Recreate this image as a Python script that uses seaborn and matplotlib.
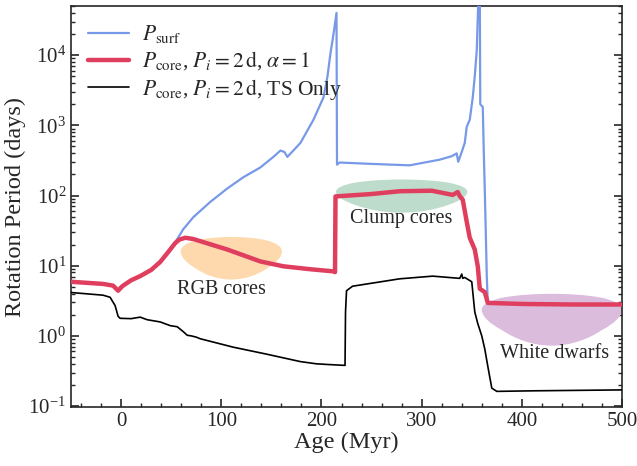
import matplotlib
matplotlib.use("Agg")
import matplotlib.pyplot as plt
from matplotlib.patches import Ellipse
from matplotlib.ticker import MultipleLocator
import pandas as pd
import seaborn as sns

# P_surf
surf_age = [54, 62, 72, 89, 106, 122, 139, 152, 159, 163, 166, 179, 192, 202, 206, 209, 212, 215,
            215.5, 218, 250, 288, 318, 330, 335, 336.5, 340, 343, 345, 348, 351, 353, 355,
            357, 358, 358.5, 361, 362, 363, 364, 365, 366]
surf_p = [21.5, 33, 49, 81, 126, 182, 251, 355, 437, 417, 355, 562, 1200, 2500, 5000, 10700, 20000, 40000,
          275, 295, 282, 269, 324, 363, 398, 302, 417, 562, 955, 1200, 2500, 5000, 11750,
          100000, 100000, 2000, 1820, 420, 120, 30, 7, 3.0]

# P_core, alpha = 1
core_age = [-50, -18, -8, -3, 0, 2, 10, 19, 30, 39, 46, 54, 58, 64, 72, 106, 139, 162,
            189, 212, 213.5, 214, 250, 278, 310, 331, 336, 338, 341, 345, 348, 353, 356,
            358, 363, 366, 400, 450, 500]
core_p = [5.9, 5.5, 5.2, 4.4, 4.9, 5.2, 6.2, 7.1, 8.7, 11.3, 15, 21, 23.5, 25, 24, 17, 11.5, 9.8,
          8.9, 8.3, 8.1, 97, 105, 115, 117, 102, 112, 98, 87, 42, 25, 17, 9.8,
          4.7, 4.2, 2.95, 2.85, 2.8, 2.8]

# P_core, TS only
ts_age = [-50, -18, -11, -6, -3, -1, 10, 19, 26, 39, 49, 56, 62, 66, 70, 75, 79, 112, 145,
          179, 195, 208, 223.5, 224, 225, 231, 278, 311, 338, 340, 341, 343, 350, 353,
          356, 360, 363, 366, 370, 375, 412, 500]
ts_p = [4.15, 3.8, 3.55, 2.7, 1.9, 1.78, 1.76, 1.85, 1.7, 1.58, 1.4, 1.35, 1.15, 1.02, 1.0, 0.96,
        0.91, 0.69, 0.55, 0.43, 0.40, 0.39, 0.38, 2.2, 4.4, 5.1, 6.5, 7.1, 6.6, 7.6, 6.6, 6.8,
        5.9, 2.2, 1.5, 1.0, 0.65, 0.37, 0.18, 0.162, 0.165, 0.17]

# shaded regions: label, centre age, centre period, width, height
regions = ["RGB cores", "Clump cores", "White dwarfs"]
reg_x = [110, 280, 430]
reg_y = [16, 113, 2.35]
reg_w = [101, 131, 140]
reg_h = [19.3, 112, 3.25]
reg_colors = ["#fdd9ad", "#bddccb", "#dcbcdd"]
label_x = [100, 280, 433]
label_y = [4.6, 47, 0.56]

sns.set_style("ticks")
plt.rcParams['font.family'] = ['Liberation Serif', 'DejaVu Serif']
plt.rcParams['mathtext.fontset'] = 'stix'
plt.rcParams['xtick.direction'] = 'in'
plt.rcParams['ytick.direction'] = 'in'

fig = plt.figure(figsize=(6.37, 4.66), dpi=100)
ax = fig.add_axes([0.1115, 0.1266, 0.865, 0.8604])

for i in range(len(regions)):
    ax.add_patch(Ellipse((reg_x[i], reg_y[i]), reg_w[i], reg_h[i],
                         facecolor=reg_colors[i], edgecolor='none', zorder=1))
    ax.text(label_x[i], label_y[i], regions[i], ha='center', va='center', fontsize=14.5)

df_surf = pd.DataFrame({'age': surf_age, 'P': surf_p})
df_core = pd.DataFrame({'age': core_age, 'P': core_p})
df_ts = pd.DataFrame({'age': ts_age, 'P': ts_p})

sns.lineplot(data=df_surf, x='age', y='P', estimator=None, sort=False, ax=ax,
             color='#7799e8', lw=1.6, label=r'$P_\mathrm{surf}$', zorder=3)
sns.lineplot(data=df_core, x='age', y='P', estimator=None, sort=False, ax=ax,
             color='#e03e5e', lw=3.2, label=r'$P_\mathrm{core}$, $P_i = 2\,\mathrm{d}$, $\alpha = 1$', zorder=4)
sns.lineplot(data=df_ts, x='age', y='P', estimator=None, sort=False, ax=ax,
             color='black', lw=1.2, label=r'$P_\mathrm{core}$, $P_i = 2\,\mathrm{d}$, TS Only', zorder=5)

ax.set_yscale('log')
ax.set_xlim(-50, 500)
ax.set_ylim(0.097, 5e4)
ax.xaxis.set_minor_locator(MultipleLocator(20))
ax.tick_params(which='both', right=True, labelsize=15)
ax.tick_params(which='major', length=6, width=1.2)
ax.tick_params(which='minor', length=3, width=1)
for s in ax.spines.values():
    s.set_linewidth(1.2)

ax.set_xlabel("Age (Myr)", fontsize=17.5, labelpad=1)
ax.set_ylabel("Rotation Period (days)", fontsize=17.5, labelpad=2)
ax.legend(loc='upper left', frameon=False, fontsize=15.5, handlelength=1.9,
          handletextpad=0.6, borderaxespad=0.4, labelspacing=0.2)

fig.savefig("out.png", dpi=100)
